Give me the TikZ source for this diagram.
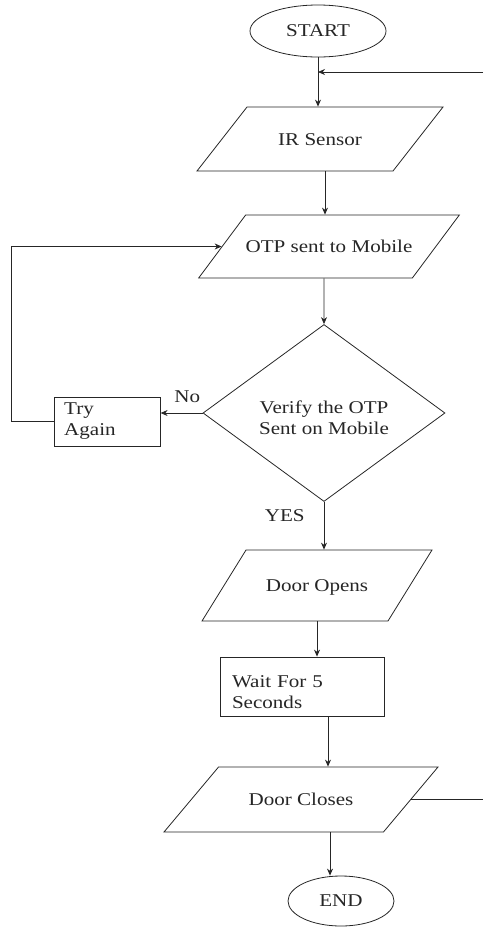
\documentclass[tikz,border=0pt]{standalone}
\usepackage{fontspec}
\setmainfont{Liberation Serif}[FakeStretch=1.17]
\usetikzlibrary{positioning,shapes.geometric,arrows.meta}

\begin{document}
\begin{tikzpicture}[
x=1pt, y=1pt,
line width=0.8pt, color=black!85,
>={Stealth[length=7pt,width=6pt]},
font=\fontsize{18pt}{21pt}\selectfont,
terminal/.style={ellipse, draw, inner sep=0pt},
inout/.style={trapezium, trapezium stretches body, draw, inner sep=0pt},
process/.style={rectangle, draw, align=left, inner ysep=0pt},
decision/.style={diamond, draw, align=center, inner sep=0pt},
tag/.style={inner sep=1pt}]

\useasboundingbox (0,0) rectangle (483,-927);

\node[terminal, minimum width=136pt, minimum height=52pt] (start) at (318,-31) {START};
\node[inout, trapezium left angle=52, trapezium right angle=128, minimum width=246pt, text height=38pt, text depth=26pt] (ir) at (320,-139) {IR Sensor\hspace{64pt}};
\node[inout, trapezium left angle=53.3, trapezium right angle=126.7, minimum width=246pt, text height=37.5pt, text depth=25.5pt] (otp) at (329,-246.5) {OTP sent to Mobile};
\node[decision, minimum width=242pt, minimum height=177pt] (verify) at (324,-413) {\rule{0pt}{22pt}Verify the OTP\\Sent on Mobile};
\node[process, text width=86pt, inner xsep=10pt, minimum height=49pt] (retry) [left = 42pt of verify, yshift=-8.5pt] {Try\\Again};
\node[inout, trapezium left angle=58.2, trapezium right angle=121.8, minimum width=230pt, text height=41.5pt, text depth=29.5pt] (opens) at (317,-585.5) {Door Opens};
\node[process, text width=140pt, inner xsep=12pt, minimum height=59pt] (wait) at (302,-686.5) {\rule{0pt}{24pt}Wait For 5\\Seconds};
\node[inout, trapezium left angle=50, trapezium right angle=130, minimum width=274pt, text height=38.5pt, text depth=26.5pt] (closes) at (301,-799.5) {Door Closes\hspace{22pt}};
\node[terminal, minimum width=106pt, minimum height=50pt] (stop) at (341,-901) {END};

\node[tag, above left = 9pt and 1pt of verify.west] (no) {No};
\node[tag, below left = 6pt and 18pt of verify.south] (yes) {YES};

\coordinate (loopin) at (483,-72);
\coordinate (loopout) at (483,-799.5);

\draw[->] (start) -- (start |- ir.north);
\draw[->] ([xshift=5pt]ir.south) -- ([xshift=5pt]ir.south |- otp.north);
\draw[->] ([xshift=-5pt]otp.south) -- (verify.north);
\draw[->] (verify.west) -- (verify.west -| retry.east);
\draw[->] (retry.west) -- ++(-42,0) |- (otp.left side);
\draw[->] (verify.south) -- (verify.south |- opens.north);
\draw[->] (opens.south) -- (opens.south |- wait.north);
\draw[->] ([xshift=26pt]wait.south) -- ([xshift=26pt]wait.south |- closes.north);
\draw[->] ([xshift=29pt]closes.south) -- ([xshift=29pt]closes.south |- stop.north);
\draw (closes.right side) -- (loopout);
\draw[->] (loopin) -- (loopin -| start);
\end{tikzpicture}
\end{document}
